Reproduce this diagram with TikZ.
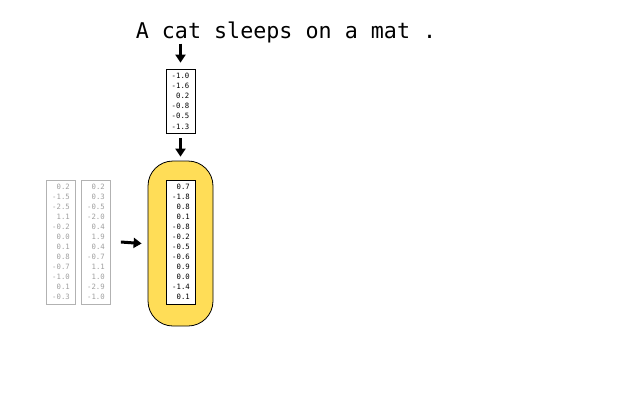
\documentclass[tikz,border=0pt]{standalone}
\usepackage{fontspec}
\newfontfamily\mono{DejaVu Sans Mono}
\usetikzlibrary{arrows.meta}
\definecolor{cellyellow}{RGB}{255,221,87}
\begin{document}
\begin{tikzpicture}[x=1pt,y=-1pt,
  vec/.style={draw, line width=0.8pt, inner sep=0pt, minimum width=29pt, font=\mono\fontsize{7.3}{10}\selectfont, align=right},
  ghost/.style={vec, draw=gray!60, text=gray!75},
  bigarrow/.style={line width=3pt, -{Triangle[width=10pt,length=8pt]}}]
\useasboundingbox (0,0) rectangle (640,400);
\node[font=\mono\fontsize{21.7}{24}\selectfont, anchor=base, inner sep=0pt] (title) at (286,38) {A cat sleeps on a mat .};
\node[vec, minimum height=64pt, font=\mono\fontsize{7.3}{10.2}\selectfont] (emb) at (180.5,101) {-1.0\\-1.6\\0.2\\-0.8\\-0.5\\-1.3};
\node[draw, line width=0.8pt, fill=cellyellow, rounded corners=25pt, minimum width=65pt, minimum height=165pt] (cell) at (180.5,243.5) {};
\node[vec, fill=white, minimum height=124pt] (out) at (181,242) {0.7\\-1.8\\0.8\\0.1\\-0.8\\-0.2\\-0.5\\-0.6\\0.9\\0.0\\-1.4\\0.1};
\node[ghost, minimum height=124pt] (g1) at (61,242) {0.2\\-1.5\\-2.5\\1.1\\-0.2\\0.0\\0.1\\0.8\\-0.7\\-1.0\\0.1\\-0.3};
\node[ghost, minimum height=124pt] (g2) at (96,242) {0.2\\0.3\\-0.5\\-2.0\\0.4\\1.9\\0.4\\-0.7\\1.1\\1.0\\-2.9\\-1.0};
\draw[bigarrow] ([yshift=-1pt]title.south -| emb.north) -- ([yshift=6pt]emb.north);
\draw[bigarrow] ([yshift=-5pt]emb.south) -- ([yshift=4pt]cell.north);
\draw[bigarrow] ([xshift=10pt]g2.east) -- ([xshift=-6pt]cell.west);
\end{tikzpicture}
\end{document}
